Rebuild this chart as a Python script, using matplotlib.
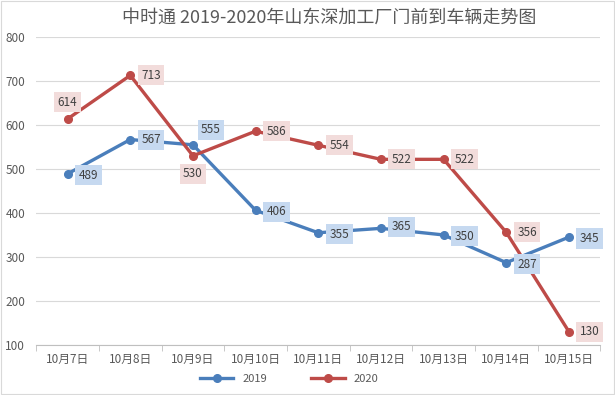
import numpy as np
import matplotlib
matplotlib.use("Agg")
import matplotlib.pyplot as plt
from matplotlib.patches import Rectangle

plt.rcParams["font.family"] = ["Noto Sans CJK SC", "DejaVu Sans"]

dates = ["10月7日", "10月8日", "10月9日", "10月10日", "10月11日",
         "10月12日", "10月13日", "10月14日", "10月15日"]
v2019 = [489, 567, 555, 406, 355, 365, 350, 287, 345]
v2020 = [614, 713, 530, 586, 554, 522, 522, 356, 130]

# label offsets in points (dx, dy)
off2019 = [(15, -1), (15, 0), (13, 11), (15, -1), (15, -1), (15, 1), (15, -1), (15, -1), (15, -1)]
off2020 = [(0, 12), (15, 0), (0, -13), (15, 0), (15, 0), (15, 0), (15, 0), (15, 0), (15, 0)]

BLUE = "#4A7EBB"
RED = "#BE4B48"
BLUE_BG = "#C6D9F0"
RED_BG = "#F2DCDB"

fig = plt.figure(figsize=(6.15, 3.95), dpi=100)
fig.patch.set_facecolor("white")
fig.patches.append(Rectangle((0.002, 0.002), 0.996, 0.996, transform=fig.transFigure,
                             fill=False, edgecolor="#D9D9D9", linewidth=0.8))
ax = fig.add_axes([0.059, 0.127, 0.917, 0.779])

x = np.arange(len(dates))
ax.plot(x, v2019, color=BLUE, linewidth=2.4, marker="o", markersize=5.5, label="2019", zorder=3)
ax.plot(x, v2020, color=RED, linewidth=2.4, marker="o", markersize=5.5, label="2020", zorder=3)

for i, (v, (dx, dy)) in enumerate(zip(v2019, off2019)):
    ax.annotate(str(v), (i, v), xytext=(dx, dy), textcoords="offset points",
                ha="center", va="center", fontsize=8.5, color="#404040", zorder=4,
                bbox=dict(boxstyle="square,pad=0.3", facecolor=BLUE_BG, edgecolor="none"))
for i, (v, (dx, dy)) in enumerate(zip(v2020, off2020)):
    ax.annotate(str(v), (i, v), xytext=(dx, dy), textcoords="offset points",
                ha="center", va="center", fontsize=8.5, color="#404040", zorder=4,
                bbox=dict(boxstyle="square,pad=0.3", facecolor=RED_BG, edgecolor="none"))

ax.set_xlim(-0.5, len(dates) - 0.5)
ax.set_ylim(100, 800)
ax.set_yticks(range(100, 801, 100))
ax.set_xticks(x)
ax.set_xticklabels(dates)
ax.set_xticks(np.arange(-0.5, len(dates), 1), minor=True)
ax.tick_params(axis="x", which="major", length=0, labelsize=8.5, colors="#595959", pad=6)
ax.tick_params(axis="x", which="minor", length=4, color="#BFBFBF", direction="out")
ax.tick_params(axis="y", length=0, labelsize=8.5, colors="#595959", pad=8)
ax.grid(axis="y", color="#D9D9D9", linewidth=0.8)
ax.set_axisbelow(True)
for s in ["left", "right", "top"]:
    ax.spines[s].set_visible(False)
ax.spines["bottom"].set_color("#BFBFBF")

fig.text(0.535, 0.955, "中时通 2019-2020年山东深加工厂门前到车辆走势图", ha="center", va="center",
         fontsize=13, color="#595959")
fig.legend(loc="center", bbox_to_anchor=(0.47, 0.04), ncol=2, frameon=False, fontsize=8,
           labelcolor="#595959", handlelength=3.0, columnspacing=4)

fig.savefig("out.png", dpi=100)
